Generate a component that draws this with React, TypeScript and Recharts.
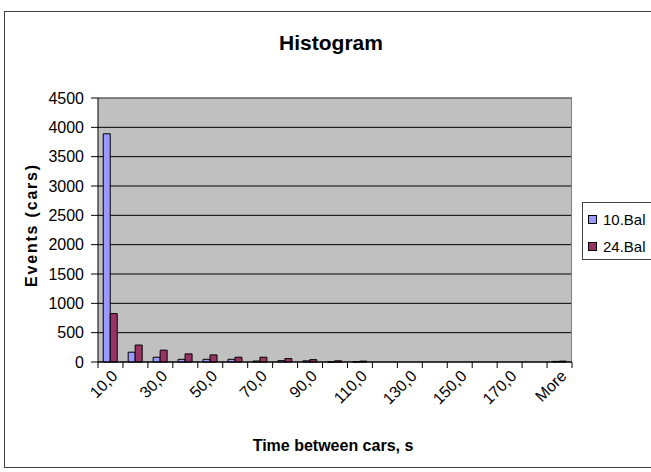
import { BarChart, Bar, XAxis, YAxis, CartesianGrid, ReferenceLine } from "recharts";

// histogram bins (upper edges) + overflow bin
const bins = [
  "10,0", "20,0", "30,0", "40,0", "50,0", "60,0", "70,0", "80,0", "90,0", "100,0",
  "110,0", "120,0", "130,0", "140,0", "150,0", "160,0", "170,0", "180,0", "More",
];
const bal10 = [3890, 167, 81, 46, 46, 46, 17, 23, 20, 3, 2, 0, 0, 0, 0, 0, 0, 0, 10];
const bal24 = [825, 289, 202, 138, 121, 81, 81, 58, 40, 20, 15, 0, 0, 0, 0, 0, 0, 0, 15];
const yTicks = [0, 500, 1000, 1500, 2000, 2500, 3000, 3500, 4000, 4500];

const seriesNames = ["10.Bal", "24.Bal"];
const seriesColors = ["#9999ff", "#993366"];

const data = bins.map((bin, i) => ({ bin, b10: bal10[i], b24: bal24[i] }));

const W = 651;
const H = 472;
const PLOT_LEFT = 98;
const PLOT_RIGHT = 572;
const BAND = (PLOT_RIGHT - PLOT_LEFT) / bins.length;
const FONT = "'Liberation Sans', Arial, sans-serif";

// Excel-style category axis: tick marks on bin boundaries, every other label rotated 45°
function XTick(props: any) {
  const { x, y, payload, index } = props;
  const left = x - BAND / 2;
  const tx = x + 8;
  const ty = y + 15;
  return (
    <g>
      <line x1={left} y1={y} x2={left} y2={y + 6} stroke="#000" />
      {index === bins.length - 1 && (
        <line x1={x + BAND / 2} y1={y} x2={x + BAND / 2} y2={y + 6} stroke="#000" />
      )}
      {index % 2 === 0 && (
        <text
          x={tx}
          y={ty}
          textAnchor="end"
          fontSize={16}
          fontFamily={FONT}
          fill="#000"
          transform={`rotate(-45, ${tx}, ${ty})`}
        >
          {payload.value}
        </text>
      )}
    </g>
  );
}

export default function App() {
  return (
    <div
      style={{
        position: "absolute",
        left: 0,
        top: 0,
        width: W,
        height: H,
        overflow: "hidden",
        background: "#fff",
        fontFamily: FONT,
      }}
    >
      {/* chart frame, right edge runs off the picture */}
      <div
        style={{
          position: "absolute",
          left: 4,
          top: 11,
          width: 720,
          height: 455,
          border: "1px solid #404040",
        }}
      />
      <div
        style={{
          position: "absolute",
          left: 0,
          width: 662,
          top: 31,
          textAlign: "center",
          fontSize: 21,
          fontWeight: "bold",
          lineHeight: "24px",
        }}
      >
        Histogram
      </div>
      <BarChart
        width={W}
        height={H}
        data={data}
        margin={{ top: 98, right: W - PLOT_RIGHT, bottom: 30, left: 0 }}
        barCategoryGap="21%"
        barGap={0}
        style={{ position: "absolute", left: 0, top: 0 }}
      >
        <CartesianGrid vertical={false} stroke="#000" fill="#c0c0c0" />
        <CartesianGrid horizontal={false} verticalPoints={[PLOT_RIGHT - 0.5]} stroke="#808080" />
        <ReferenceLine y={4500} stroke="#909090" />
        <XAxis
          dataKey="bin"
          interval={0}
          height={80}
          tickSize={0}
          tickMargin={0}
          tickLine={false}
          axisLine={{ stroke: "#000" }}
          tick={<XTick />}
        />
        <YAxis
          width={PLOT_LEFT}
          domain={[0, 4500]}
          ticks={yTicks}
          interval={0}
          tickSize={7}
          tickMargin={7}
          axisLine={{ stroke: "#000" }}
          tickLine={{ stroke: "#000" }}
          tick={{ fontSize: 16, fill: "#000", fontFamily: FONT }}
        />
        <Bar dataKey="b10" name={seriesNames[0]} fill={seriesColors[0]} stroke="#000" strokeWidth={1} isAnimationActive={false} />
        <Bar dataKey="b24" name={seriesNames[1]} fill={seriesColors[1]} stroke="#000" strokeWidth={1} isAnimationActive={false} />
      </BarChart>
      {/* y axis title */}
      <div
        style={{
          position: "absolute",
          left: 32,
          top: 225,
          transform: "translate(-50%, -50%) rotate(-90deg)",
          whiteSpace: "nowrap",
          fontSize: 16,
          fontWeight: "bold",
          letterSpacing: 1.8,
        }}
      >
        Events (cars)
      </div>
      {/* x axis title */}
      <div
        style={{
          position: "absolute",
          left: 0,
          width: 2 * 333,
          top: 436,
          textAlign: "center",
          fontSize: 16,
          fontWeight: "bold",
          lineHeight: "20px",
        }}
      >
        Time between cars, s
      </div>
      {/* legend */}
      <div
        style={{
          position: "absolute",
          left: 582,
          top: 202,
          width: 90,
          height: 56,
          border: "1px solid #404040",
          background: "#fff",
        }}
      >
        {seriesNames.map((name, i) => (
          <div
            key={name}
            style={{
              position: "absolute",
              left: 5,
              top: 6 + i * 27,
              height: 20,
              display: "flex",
              alignItems: "center",
              fontSize: 15,
              whiteSpace: "nowrap",
            }}
          >
            <span
              style={{
                display: "inline-block",
                width: 7,
                height: 7,
                border: "1px solid #000",
                background: seriesColors[i],
                marginRight: 6,
              }}
            />
            {name}
          </div>
        ))}
      </div>
    </div>
  );
}
